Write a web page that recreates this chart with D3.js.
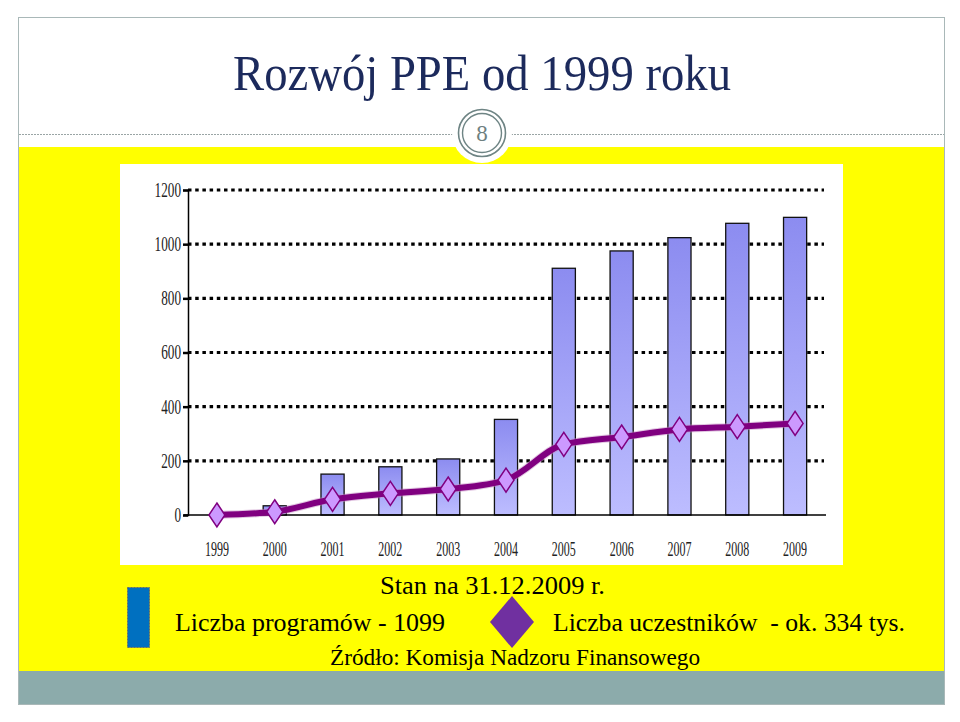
<!DOCTYPE html>
<html>
<head>
<meta charset="utf-8">
<script src="https://cdn.jsdelivr.net/npm/d3@7/dist/d3.min.js"></script>
<style>
  html, body { margin: 0; padding: 0; background: #fff; }
  svg { display: block; }
  svg text, .serif { font-family: 'Liberation Serif', 'DejaVu Serif', 'Times New Roman', serif !important; }
</style>
</head>
<body>
<div id="chart"></div>
<script>
// data
const years = ['1999', '2000', '2001', '2002', '2003', '2004', '2005', '2006', '2007', '2008', '2009'];
const programs = [0, 34, 151, 178, 207, 353, 911, 975, 1024, 1077, 1099];
const participants = [0, 12, 58, 80, 96, 129, 261, 288, 316, 326, 338];
const yTicks = [0, 200, 400, 600, 800, 1000, 1200];

const W = 960, H = 722;
const svg = d3.select('#chart').append('svg')
    .attr('width', W)
    .attr('height', H);

// slide frame
svg.append('rect')
    .attr('x', 18.5).attr('y', 17.5)
    .attr('width', 926).attr('height', 687)
    .attr('fill', '#fff')
    .attr('stroke', '#a9b8b8');

svg.append('text')
    .attr('class', 'serif')
    .attr('x', 233).attr('y', 90)
    .attr('textLength', 498)
    .attr('lengthAdjust', 'spacingAndGlyphs')
    .style('font-size', '50px')
    .attr('fill', '#1c2a5c')
    .text('Rozwój PPE od 1999 roku');

// yellow body + grey footer
svg.append('rect')
    .attr('x', 19).attr('y', 147)
    .attr('width', 925).attr('height', 524)
    .attr('fill', '#ffff00');
svg.append('rect')
    .attr('x', 19).attr('y', 671)
    .attr('width', 925).attr('height', 33)
    .attr('fill', '#8cabab');

// dotted separator and page number badge
svg.append('line')
    .attr('x1', 19).attr('x2', 944)
    .attr('y1', 134.5).attr('y2', 134.5)
    .attr('stroke', '#9aa5a5')
    .attr('stroke-dasharray', '2,1');
svg.append('circle')
    .attr('cx', 482).attr('cy', 133).attr('r', 30)
    .attr('fill', '#fff');
svg.append('circle')
    .attr('cx', 482).attr('cy', 133).attr('r', 23.5)
    .attr('fill', 'none')
    .attr('stroke', '#6e8484').attr('stroke-width', 1.6);
svg.append('circle')
    .attr('cx', 482).attr('cy', 133).attr('r', 19.5)
    .attr('fill', 'none')
    .attr('stroke', '#6e8484').attr('stroke-width', 1.4);
svg.append('text')
    .attr('class', 'serif')
    .attr('x', 482).attr('y', 141)
    .attr('text-anchor', 'middle')
    .style('font-size', '23px')
    .attr('fill', '#6e8080')
    .text('8');

// chart area
svg.append('rect')
    .attr('x', 120).attr('y', 164)
    .attr('width', 723).attr('height', 401)
    .attr('fill', '#fff');

const x = d3.scaleBand()
    .domain(years)
    .range([188, 824])
    .paddingInner(0.6)
    .paddingOuter(0.3);
const y = d3.scaleLinear()
    .domain([0, 1200])
    .range([515, 190]);

const defs = svg.append('defs');
const grad = defs.append('linearGradient')
    .attr('id', 'barFill')
    .attr('x1', 0).attr('x2', 0).attr('y1', 0).attr('y2', 1);
grad.append('stop').attr('offset', '0%').attr('stop-color', '#8c8cf0');
grad.append('stop').attr('offset', '100%').attr('stop-color', '#bdbdff');

// dotted gridlines
svg.append('g')
    .selectAll('line')
    .data(yTicks.filter(d => d > 0))
    .join('line')
    .attr('x1', 188).attr('x2', 824)
    .attr('y1', d => y(d)).attr('y2', d => y(d))
    .attr('stroke', '#000')
    .attr('stroke-width', 3.2)
    .attr('stroke-dasharray', '3.5,3.7');

// y axis
const yAxis = svg.append('g')
    .attr('transform', 'translate(188,0)')
    .call(d3.axisLeft(y).tickValues(yTicks).tickFormat(d3.format('d')).tickSize(5).tickPadding(4));
yAxis.select('.domain')
    .attr('stroke', '#000').attr('stroke-width', 1.5);
yAxis.selectAll('.tick line')
    .attr('stroke', '#000').attr('stroke-width', 2.5);
yAxis.selectAll('.tick text')
    .attr('class', 'serif')
    .style('font-size', '20px')
    .attr('fill', '#222')
    .attr('x', -7 / 0.66)
    .attr('transform', 'scale(0.66,1)');

// bars
svg.append('g')
    .selectAll('rect')
    .data(programs.map((v, i) => ({ year: years[i], value: v })).filter(d => d.value > 0))
    .join('rect')
    .attr('x', d => x(d.year))
    .attr('y', d => y(d.value))
    .attr('width', x.bandwidth())
    .attr('height', d => y(0) - y(d.value))
    .attr('fill', 'url(#barFill)')
    .attr('stroke', '#111')
    .attr('stroke-width', 1.3);

// x axis
const xAxis = svg.append('g')
    .attr('transform', 'translate(0,515)')
    .call(d3.axisBottom(x).tickSize(0).tickPadding(27));
xAxis.select('.domain')
    .attr('d', 'M184,0H826')
    .attr('stroke', '#000').attr('stroke-width', 1.5);
xAxis.selectAll('.tick text')
    .attr('class', 'serif')
    .style('font-size', '20px')
    .attr('fill', '#222')
    .attr('transform', 'scale(0.6,1)');

// participants line
const pts = participants.map((v, i) => ({ year: years[i], value: v }));
const line = d3.line()
    .x(d => x(d.year) + x.bandwidth() / 2)
    .y(d => y(d.value))
    .curve(d3.curveMonotoneX);
svg.append('path')
    .datum(pts)
    .attr('d', line)
    .attr('fill', 'none')
    .attr('stroke', '#c58fc5')
    .attr('stroke-width', 8)
    .attr('stroke-opacity', 0.5);
svg.append('path')
    .datum(pts)
    .attr('d', line)
    .attr('fill', 'none')
    .attr('stroke', '#800080')
    .attr('stroke-width', 6);

svg.append('g')
    .selectAll('path')
    .data(pts)
    .join('path')
    .attr('transform', d => `translate(${x(d.year) + x.bandwidth() / 2},${y(d.value)})`)
    .attr('d', 'M0,-12L8,0L0,12L-8,0Z')
    .attr('fill', '#cc99ff')
    .attr('stroke', '#800080')
    .attr('stroke-width', 1.5);

// notes under the chart
const notes = [
    { text: 'Stan na 31.12.2009 r.', x: 380, y: 594, len: 225, size: 25 },
    { text: 'Liczba programów - 1099', x: 175, y: 631, len: 270, size: 26 },
    { text: 'Liczba uczestników  - ok. 334 tys.', x: 553, y: 631, len: 352, size: 26 },
    { text: 'Źródło: Komisja Nadzoru Finansowego', x: 330, y: 665, len: 370, size: 24 }
];
svg.append('g')
    .selectAll('text')
    .data(notes)
    .join('text')
    .attr('class', 'serif')
    .attr('x', d => d.x)
    .attr('y', d => d.y)
    .attr('textLength', d => d.len)
    .attr('lengthAdjust', 'spacingAndGlyphs')
    .style('font-size', d => d.size + 'px')
    .attr('fill', '#000')
    .style('white-space', 'pre')
    .text(d => d.text);

// legend keys
svg.append('rect')
    .attr('x', 127.5).attr('y', 587.5)
    .attr('width', 22).attr('height', 60)
    .attr('fill', '#0070c0')
    .attr('stroke', '#6a6a6a')
    .attr('stroke-dasharray', '2,1');
svg.append('path')
    .attr('transform', 'translate(512,622)')
    .attr('d', 'M0,-26L22,0L0,26L-22,0Z')
    .attr('fill', '#7030a0');
</script>
</body>
</html>
